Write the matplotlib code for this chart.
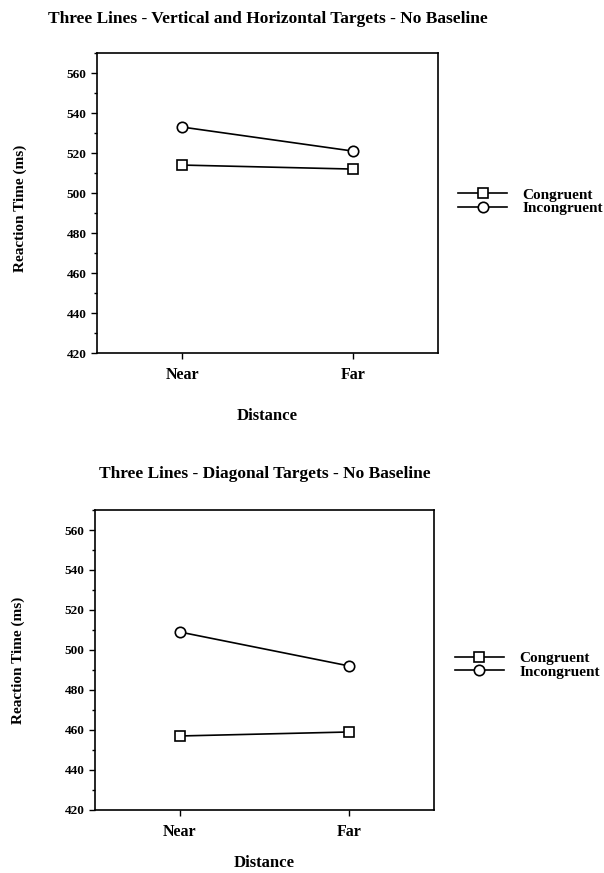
import numpy as np
import matplotlib
matplotlib.use("Agg")
import matplotlib.pyplot as plt
from matplotlib.ticker import MultipleLocator

plt.rcParams["font.family"] = ["Liberation Serif", "DejaVu Serif"]
plt.rcParams["font.weight"] = "bold"

# Data
distance = ["Near", "Far"]
yticks = [420, 440, 460, 480, 500, 520, 540, 560]

vh_congruent = [514, 512]
vh_incongruent = [533, 521]

diag_congruent = [457, 459]
diag_incongruent = [509, 492]

panels = [
    ("Three Lines - Vertical and Horizontal Targets - No Baseline",
     vh_congruent, vh_incongruent, [0.1606, 0.5956, 0.5646, 0.3436],
     (-0.205, 0.483), -0.183, (1.059, 0.505), 21.5),
    ("Three Lines - Diagonal Targets - No Baseline",
     diag_congruent, diag_incongruent, [0.1573, 0.0722, 0.5613, 0.3436],
     (-0.206, 0.5), -0.15, (1.062, 0.483), 23),
]

fig = plt.figure(figsize=(6.04, 8.73), dpi=100)

for title, cong, incong, rect, yl_xy, xly, leg_xy, tpad in panels:
    ax = fig.add_axes(rect)
    x = np.arange(len(distance))
    ax.plot(x, cong, color="black", lw=1.2, marker="s", ms=7.5,
            mfc="white", mec="black", mew=1.2, label="Congruent")
    ax.plot(x, incong, color="black", lw=1.2, marker="o", ms=7.5,
            mfc="white", mec="black", mew=1.2, label="Incongruent")
    ax.set_xlim(-0.5, 1.5)
    ax.set_ylim(420, 570)
    ax.set_xticks(x)
    ax.set_xticklabels(distance, fontsize=11.5, fontweight="bold")
    ax.set_yticks(yticks)
    ax.set_yticklabels([str(t) for t in yticks], fontsize=9.5, fontweight="bold")
    ax.yaxis.set_minor_locator(MultipleLocator(10))
    ax.tick_params(axis="both", which="major", direction="out", length=4, width=1)
    ax.tick_params(axis="x", which="major", pad=6)
    ax.tick_params(axis="y", which="minor", direction="out", length=2, width=1)
    for s in ax.spines.values():
        s.set_linewidth(1.2)
    ax.set_ylabel("Reaction Time (ms)", fontsize=11, fontweight="bold")
    ax.yaxis.set_label_coords(*yl_xy)
    ax.set_xlabel("Distance", fontsize=12, fontweight="bold")
    ax.xaxis.set_label_coords(0.5, xly)
    ax.set_title(title, fontsize=12.5, fontweight="bold", pad=tpad)
    ax.legend(loc="center left", bbox_to_anchor=leg_xy, frameon=False,
              fontsize=11, handlelength=3.2, handletextpad=1.0,
              labelspacing=-0.02, borderpad=0, borderaxespad=0)

fig.savefig("out.png", dpi=100)
